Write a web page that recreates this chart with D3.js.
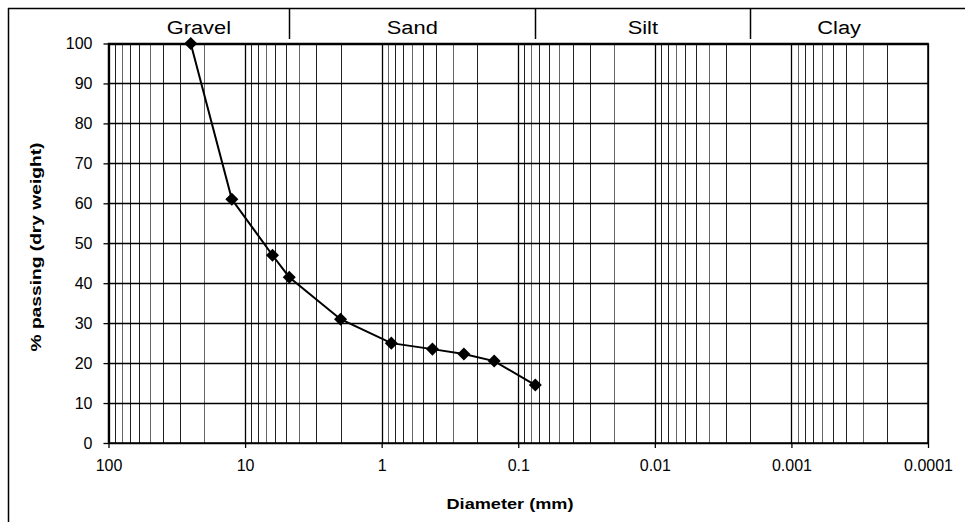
<!DOCTYPE html>
<html>
<head>
<meta charset="utf-8">
<script src="https://cdn.jsdelivr.net/npm/d3@7/dist/d3.min.js"></script>
<style>
  html, body { margin: 0; padding: 0; background: #fff; }
  svg { display: block; font-family: "Liberation Sans", Arial, sans-serif; }
</style>
</head>
<body>
<svg id="chart" width="965" height="531"></svg>
<script>
// Particle size distribution (sieve analysis)
const diameters = [25, 12.5, 6.3, 4.75, 2, 0.85, 0.425, 0.25, 0.15, 0.075];   // mm
const passing   = [100, 61, 47, 41.5, 31, 25, 23.5, 22.3, 20.5, 14.5];       // % passing

// Soil classes along the diameter axis
const bandNames = ["Gravel", "Sand", "Silt", "Clay"];
const bandEdges = [100, 4.75, 0.075, 0.002, 0.0001];

// Axis ticks
const xTickValues = [100, 10, 1, 0.1, 0.01, 0.001, 0.0001];
const xTickLabels = ["100", "10", "1", "0.1", "0.01", "0.001", "0.0001"];
const yTickValues = [0, 10, 20, 30, 40, 50, 60, 70, 80, 90, 100];

const svg = d3.select("#chart");

const x = d3.scaleLog().domain([100, 0.0001]).range([108.5, 928]);
const y = d3.scaleLinear().domain([0, 100]).range([443, 43.5]);

// Outer frame
svg.append("line").attr("x1", 8).attr("x2", 965).attr("y1", 8.5).attr("y2", 8.5)
  .attr("stroke", "#000").attr("stroke-width", 1.5);
svg.append("line").attr("x1", 8.5).attr("x2", 8.5).attr("y1", 8).attr("y2", 522)
  .attr("stroke", "#000").attr("stroke-width", 1.5);

// Minor log grid (2..9 within each decade)
const minor = [];
for (let e = -4; e < 2; e++) {
  for (let m = 2; m <= 9; m++) minor.push(m * Math.pow(10, e));
}
svg.append("g").selectAll("line").data(minor).join("line")
  .attr("x1", d => Math.round(x(d)) + 0.5).attr("x2", d => Math.round(x(d)) + 0.5)
  .attr("y1", y(100)).attr("y2", y(0))
  .attr("stroke", (d, i) => (i % 3 === 1 ? "#666" : "#222"))
  .attr("stroke-width", 1);

// Horizontal grid
svg.append("g").selectAll("line").data(yTickValues).join("line")
  .attr("x1", x(100)).attr("x2", x(0.0001))
  .attr("y1", d => Math.round(y(d)) + 0.5).attr("y2", d => Math.round(y(d)) + 0.5)
  .attr("stroke", "#000").attr("stroke-width", 1.3);

// Major (decade) grid
svg.append("g").selectAll("line").data(xTickValues).join("line")
  .attr("x1", d => Math.round(x(d)) + 0.5).attr("x2", d => Math.round(x(d)) + 0.5)
  .attr("y1", y(100)).attr("y2", y(0))
  .attr("stroke", "#000").attr("stroke-width", 1.3);

// Plot border
svg.append("rect")
  .attr("x", x(100)).attr("y", y(100))
  .attr("width", x(0.0001) - x(100)).attr("height", y(0) - y(100))
  .attr("fill", "none").attr("stroke", "#000").attr("stroke-width", 1.5);

// Axes
const xAxis = d3.axisBottom(x).tickValues(xTickValues)
  .tickFormat((d, i) => xTickLabels[i]).tickSize(5).tickPadding(12);
const gx = svg.append("g").attr("transform", `translate(0,${y(0)})`).call(xAxis);
gx.select(".domain").remove();
gx.selectAll("text").attr("font-size", 16).attr("fill", "#000")
  .attr("font-family", "Liberation Sans, Arial, sans-serif");
gx.selectAll("line").attr("stroke", "#000").attr("stroke-width", 1.3);

const yAxis = d3.axisLeft(y).tickValues(yTickValues).tickSize(5).tickPadding(11);
const gy = svg.append("g").attr("transform", `translate(${x(100)},0)`).call(yAxis);
gy.select(".domain").remove();
gy.selectAll("text").attr("font-size", 16).attr("fill", "#000")
  .attr("font-family", "Liberation Sans, Arial, sans-serif");
gy.selectAll("line").attr("stroke", "#000").attr("stroke-width", 1.3);

// Soil class header
svg.append("g").selectAll("line").data(bandEdges.slice(1, -1)).join("line")
  .attr("x1", d => Math.round(x(d)) + 0.5).attr("x2", d => Math.round(x(d)) + 0.5)
  .attr("y1", 9).attr("y2", 39)
  .attr("stroke", "#000").attr("stroke-width", 1.5);

svg.append("g").selectAll("text").data(bandNames).join("text")
  .attr("transform", (d, i) => {
    const cx = (x(bandEdges[i]) + x(bandEdges[i + 1])) / 2;
    return `translate(${cx},34) scale(1.15,1)`;
  })
  .attr("text-anchor", "middle")
  .attr("font-size", 19)
  .attr("fill", "#000")
  .text(d => d);

// Axis titles
svg.append("text")
  .attr("x", 510).attr("y", 509)
  .attr("text-anchor", "middle")
  .attr("font-size", 14).attr("font-weight", "bold")
  .attr("textLength", 127).attr("lengthAdjust", "spacingAndGlyphs")
  .text("Diameter (mm)");

svg.append("text")
  .attr("transform", "translate(41,247) rotate(-90)")
  .attr("text-anchor", "middle")
  .attr("font-size", 14).attr("font-weight", "bold")
  .attr("textLength", 209).attr("lengthAdjust", "spacingAndGlyphs")
  .text("% passing (dry weight)");

// Grading curve
const pts = diameters.map((d, i) => [d, passing[i]]);
svg.append("path").datum(pts)
  .attr("d", d3.line().x(d => x(d[0])).y(d => y(d[1])))
  .attr("fill", "none").attr("stroke", "#000").attr("stroke-width", 2);

svg.append("g").selectAll("path").data(pts).join("path")
  .attr("d", d3.symbol().type(d3.symbolSquare).size(85))
  .attr("transform", d => `translate(${x(d[0])},${y(d[1])}) rotate(45)`)
  .attr("fill", "#000");
</script>
</body>
</html>
